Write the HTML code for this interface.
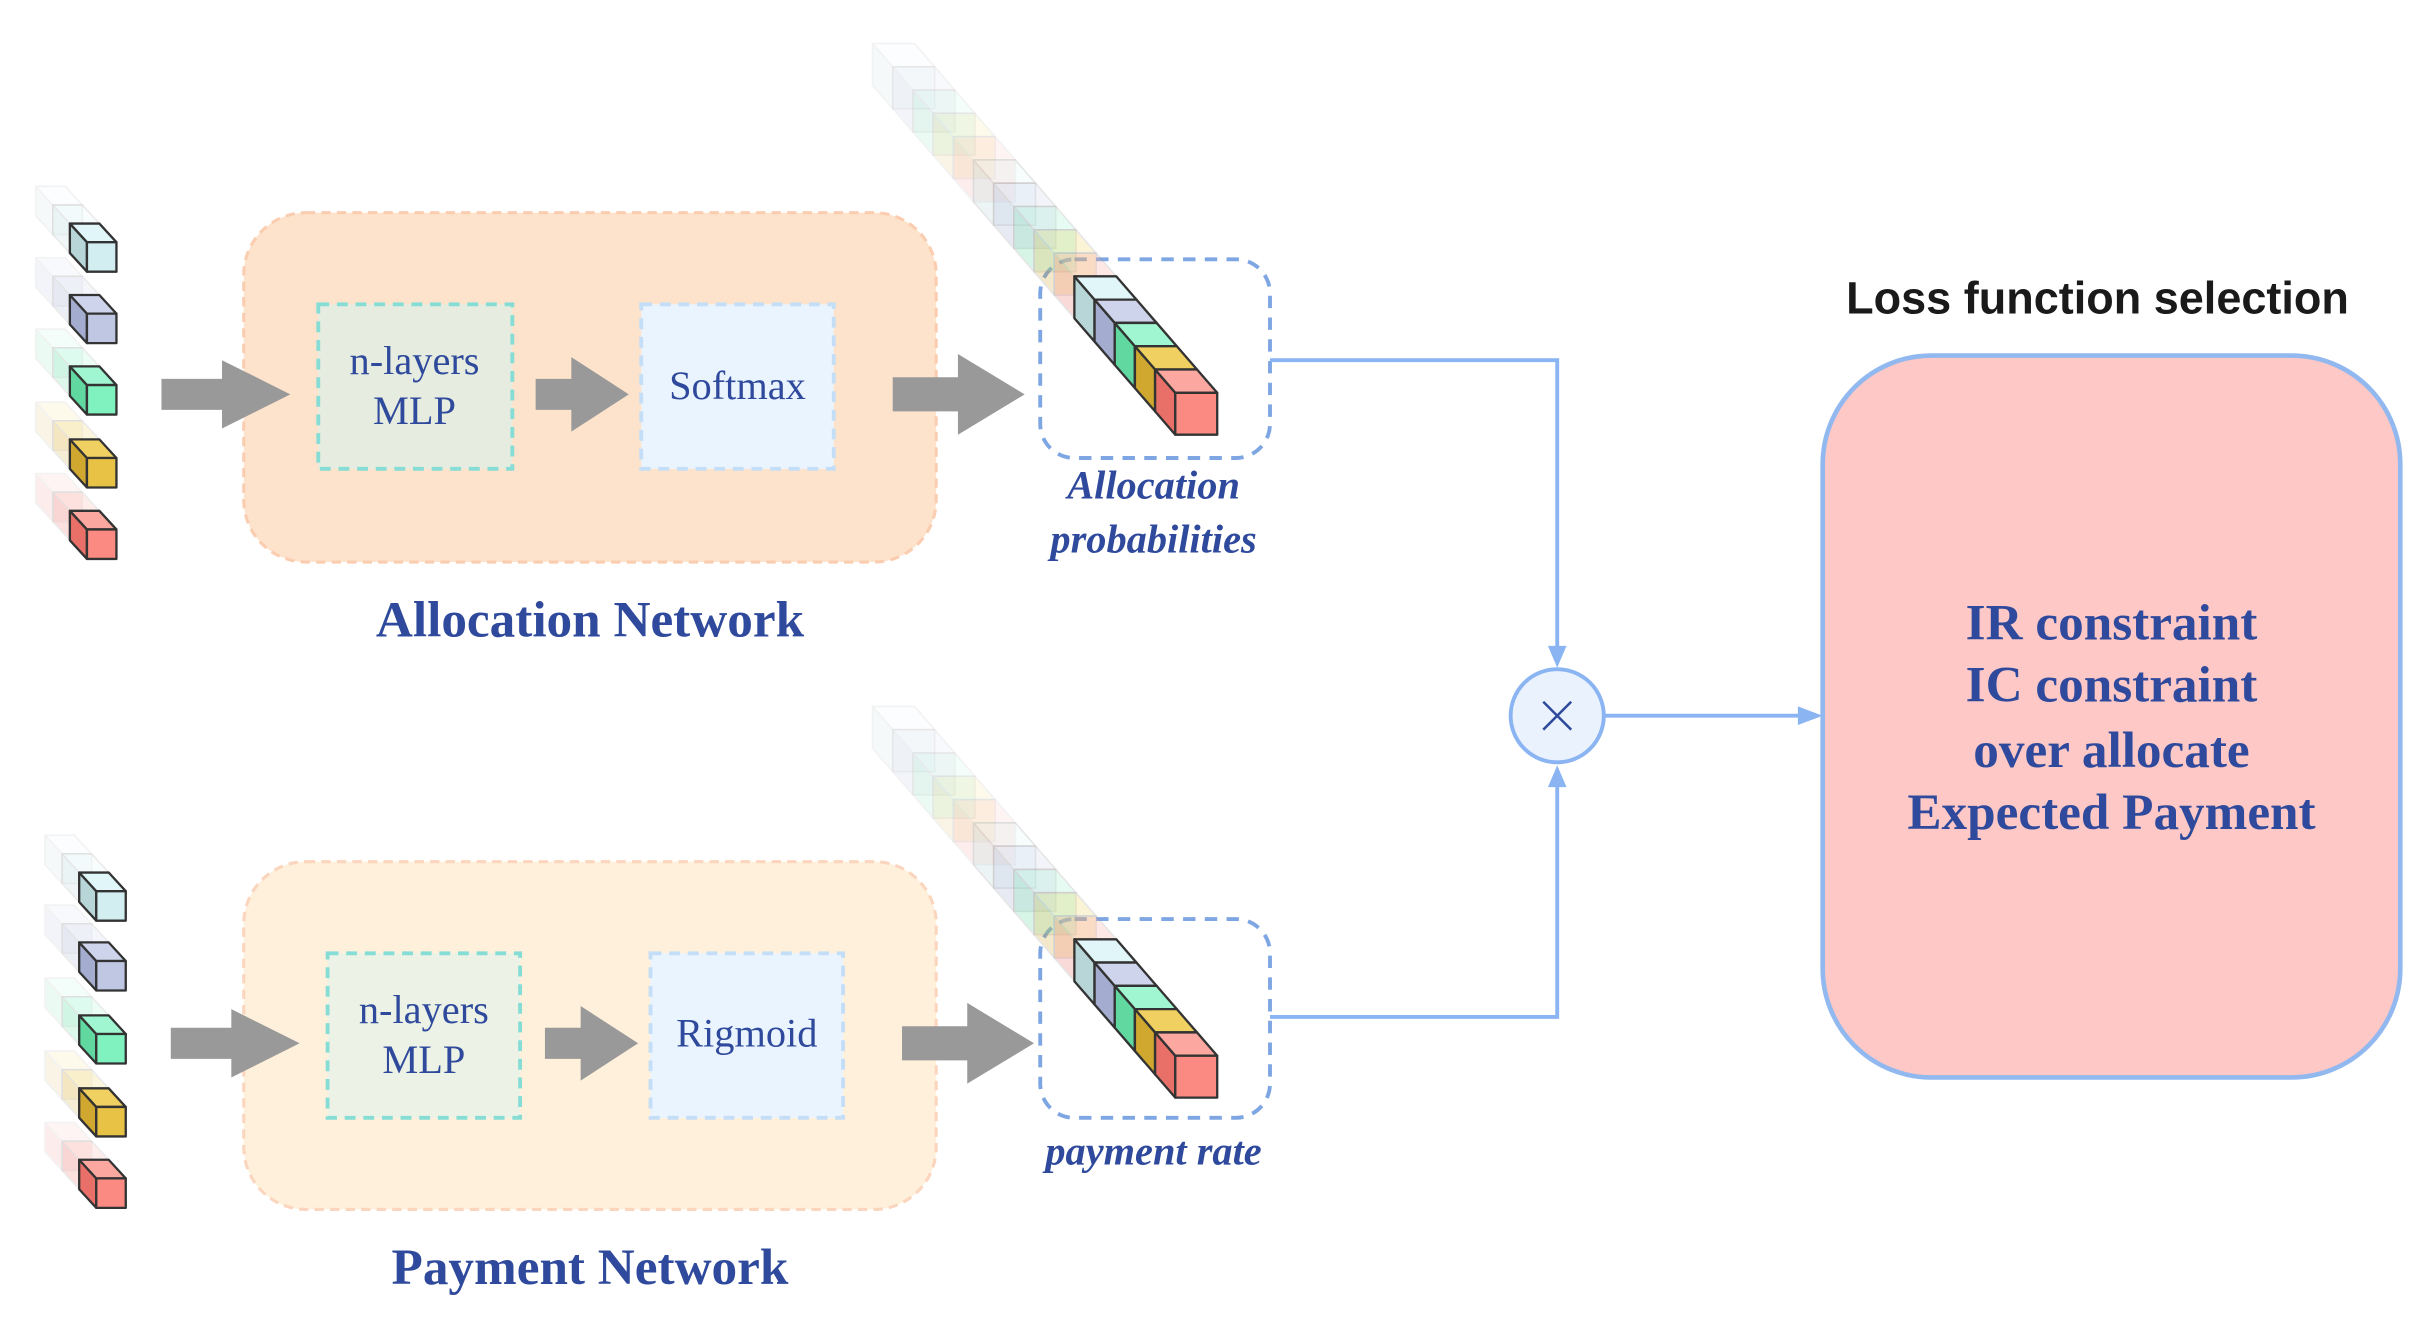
<!DOCTYPE html>
<html><head><meta charset="utf-8"><style>
html,body{margin:0;padding:0;background:#fff;width:2422px;height:1324px;overflow:hidden}
svg{display:block}
.s{font-family:"Liberation Serif",serif;fill:#2f4a9c}
</style></head><body>
<svg id="g" width="2422" height="1324" viewBox="0 0 1560 852.8" preserveAspectRatio="none" xmlns="http://www.w3.org/2000/svg">
<rect x="0" y="0" width="1560" height="853" fill="#fff"/>
<rect x="157" y="137" width="446" height="225" rx="40" fill="#fde3cb" stroke="#fbcdb0" stroke-width="2" stroke-dasharray="6 4"/>
<rect x="205" y="196" width="125" height="106" fill="#e6ecdf" stroke="#86ddd5" stroke-width="2.5" stroke-dasharray="7 5"/>
<rect x="413" y="196" width="124" height="106" fill="#eaf4fe" stroke="#c4def8" stroke-width="2.5" stroke-dasharray="7 5"/>
<text class="s" x="267" y="241" font-size="26" text-anchor="middle">n-layers</text>
<text class="s" x="267" y="273" font-size="26" text-anchor="middle">MLP</text>
<text class="s" x="475" y="257" font-size="26" text-anchor="middle">Softmax</text>
<polygon fill="#999" points="104,244 143,244 143,232 187,254 143,276 143,264 104,264"/>
<polygon fill="#999" points="345,244 368,244 368,230 405,254 368,278 368,264 345,264"/>
<polygon fill="#999" points="575,243 617,243 617,228 660,254 617,280 617,265 575,265"/>
<rect x="670" y="167" width="148" height="128" rx="22" fill="none" stroke="#7ea6e2" stroke-width="2.5" stroke-dasharray="8 6"/>
<text class="s" x="743" y="321" font-size="26" font-style="italic" font-weight="bold" text-anchor="middle">Allocation</text>
<text class="s" x="743" y="356" font-size="26" font-style="italic" font-weight="bold" text-anchor="middle">probabilities</text>
<text class="s" x="380" y="410" font-size="33" font-weight="bold" text-anchor="middle">Allocation Network</text>
<rect x="157" y="555" width="446" height="224" rx="40" fill="#fef0da" stroke="#fbd5bd" stroke-width="2" stroke-dasharray="6 4"/>
<rect x="211" y="614" width="124" height="106" fill="#ecf2e6" stroke="#86ddd5" stroke-width="2.5" stroke-dasharray="7 5"/>
<rect x="419" y="614" width="124" height="106" fill="#eaf4fe" stroke="#c4def8" stroke-width="2.5" stroke-dasharray="7 5"/>
<text class="s" x="273" y="659" font-size="26" text-anchor="middle">n-layers</text>
<text class="s" x="273" y="691" font-size="26" text-anchor="middle">MLP</text>
<text class="s" x="481" y="674" font-size="26" text-anchor="middle">Rigmoid</text>
<polygon fill="#999" points="110,662 149,662 149,650 193,672 149,694 149,682 110,682"/>
<polygon fill="#999" points="351,662 374,662 374,648 411,672 374,696 374,682 351,682"/>
<polygon fill="#999" points="581,661 623,661 623,646 666,672 623,698 623,683 581,683"/>
<rect x="670" y="592" width="148" height="128" rx="22" fill="none" stroke="#7ea6e2" stroke-width="2.5" stroke-dasharray="8 6"/>
<text class="s" x="743" y="750" font-size="26" font-style="italic" font-weight="bold" text-anchor="middle">payment rate</text>
<text class="s" x="380" y="827" font-size="33" font-weight="bold" text-anchor="middle">Payment Network</text>
<polyline points="818,232 1003,232 1003,420" fill="none" stroke="#8ab4f2" stroke-width="2.5"/>
<polygon points="997,416 1009,416 1003,430" fill="#8ab4f2"/>
<polyline points="818,655 1003,655 1003,503" fill="none" stroke="#8ab4f2" stroke-width="2.5"/>
<polygon points="997,507 1009,507 1003,493" fill="#8ab4f2"/>
<circle cx="1003" cy="461" r="30" fill="#eaf2fe" stroke="#8ab4f2" stroke-width="2.5"/>
<path d="M994,452 L1012,470 M1012,452 L994,470" stroke="#2f4a9c" stroke-width="1.6"/>
<line x1="1034" y1="461" x2="1162" y2="461" stroke="#8ab4f2" stroke-width="2.5"/>
<polygon points="1158,455 1174,461 1158,467" fill="#8ab4f2"/>
<text x="1351" y="202" font-family="Liberation Sans,sans-serif" font-size="29" font-weight="bold" fill="#1a1a1a" text-anchor="middle">Loss function selection</text>
<rect x="1174" y="229" width="372" height="465" rx="70" fill="#fdc8c6" stroke="#92b8f0" stroke-width="3"/>
<text class="s" x="1360" y="412" font-size="33" font-weight="bold" text-anchor="middle">IR constraint</text>
<text class="s" x="1360" y="452" font-size="33" font-weight="bold" text-anchor="middle">IC constraint</text>
<text class="s" x="1360" y="494" font-size="33" font-weight="bold" text-anchor="middle">over allocate</text>
<text class="s" x="1360" y="534" font-size="33" font-weight="bold" text-anchor="middle">Expected Payment</text>
<g id="cubes"></g>
</svg>
<script>
var C=[["#d3eef0","#e0f6f8","#b8d6d8"],["#bfc7e2","#cdd4ec","#a4add0"],["#80f2c0","#a0f6d0","#60d8a0"],["#e8c244","#f0d060","#d0a830"],["#fa8a82","#fca8a0","#e87068"]];
var g=document.getElementById("cubes"),h="";
function cube(fx,fy,s,dx,dy,c,op,sw){
 var st=op>0.6?"#333":"#999";
 h+='<g opacity="'+op+'" stroke="'+st+'" stroke-width="'+sw+'" stroke-linejoin="round">';
 h+='<polygon fill="'+c[2]+'" points="'+fx+','+fy+' '+fx+','+(fy+s)+' '+(fx-dx)+','+(fy+s-dy)+' '+(fx-dx)+','+(fy-dy)+'"/>';
 h+='<polygon fill="'+c[1]+'" points="'+fx+','+fy+' '+(fx+s)+','+fy+' '+(fx+s-dx)+','+(fy-dy)+' '+(fx-dx)+','+(fy-dy)+'"/>';
 h+='<rect fill="'+c[0]+'" x="'+fx+'" y="'+fy+'" width="'+s+'" height="'+s+'"/></g>';
}
function inputs(x,ys){
 for(var k=0;k<5;k++){var y=ys[k];
  cube(x-22,y-24,19,11,12,C[k],0.12,1);
  cube(x-11,y-12,19,11,12,C[k],0.2,1);
  cube(x,y,19,11,12,C[k],1,1.5);}
}
inputs(56,[156,202,248,295,341]);
inputs(62,[574,619,666,713,759]);
function chain(lx,ly){
 var dx=13,dy=15,s=27;
 for(var i=-10;i<0;i++){var k=((i%5)+5)%5;var op=i<-5?0.12:0.25;
  cube(lx-dx*(4-i),ly-dy*(4-i),s,dx,dy,C[k],op,1);}
 for(var i=0;i<5;i++){cube(lx-dx*(4-i),ly-dy*(4-i),s,dx,dy,C[i],1,1.5);}
}
chain(757,253);
chain(757,680);
g.innerHTML=h;
</script>
</body></html>
